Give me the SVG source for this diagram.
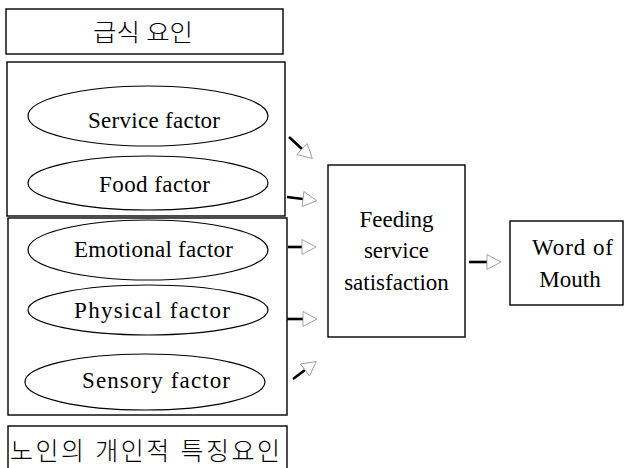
<svg xmlns="http://www.w3.org/2000/svg" width="625" height="468" viewBox="0 0 625 468">
<style>
.box{fill:none;stroke:#000;stroke-width:1.4}
.ell{fill:none;stroke:#000;stroke-width:1.2}
.t{font-family:"Liberation Serif","Times New Roman",serif;font-size:23px;fill:#000}
.k{font-family:"Liberation Serif","Noto Sans CJK KR",serif;font-weight:300;fill:#000}
.c{stroke:#000;stroke-width:2.6;fill:none;marker-end:url(#ah)}
</style>
<defs>
<marker id="ah" markerUnits="userSpaceOnUse" markerWidth="18" markerHeight="18" viewBox="0 0 18 18" refX="1" refY="9" orient="auto">
<path d="M1,1.5 L15,9 L1,16.5 Z" fill="#fff" stroke="#999" stroke-width="0.9"/>
</marker>
</defs>
<g id="header-meal">
<rect class="box" x="6" y="9" width="277" height="45"/>
<text class="k" x="93" y="41" font-size="24" textLength="100" lengthAdjust="spacingAndGlyphs">급식 요인</text>
</g>
<g id="group-meal">
<rect class="box" x="7" y="62" width="278" height="154"/>
</g>
<g id="service">
<ellipse class="ell" cx="148" cy="116" rx="120" ry="30"/>
<text class="t" x="88" y="128" textLength="132" lengthAdjust="spacing">Service factor</text>
</g>
<g id="food">
<ellipse class="ell" cx="148" cy="183" rx="120" ry="27"/>
<text class="t" x="99" y="192" textLength="111" lengthAdjust="spacing">Food factor</text>
</g>
<g id="group-personal">
<rect class="box" x="8" y="218" width="279" height="197"/>
</g>
<g id="emotional">
<ellipse class="ell" cx="148" cy="250" rx="120" ry="30"/>
<text class="t" x="74" y="257" textLength="159" lengthAdjust="spacing">Emotional factor</text>
</g>
<g id="physical">
<ellipse class="ell" cx="148" cy="310" rx="120" ry="25"/>
<text class="t" x="74" y="318" textLength="156" lengthAdjust="spacing">Physical factor</text>
</g>
<g id="sensory">
<ellipse class="ell" cx="145" cy="382" rx="120" ry="28"/>
<text class="t" x="82" y="388" textLength="148" lengthAdjust="spacing">Sensory factor</text>
</g>
<g id="header-personal">
<rect class="box" x="8" y="426" width="279" height="46"/>
<text class="k" x="10" y="460" font-size="25" textLength="270" lengthAdjust="spacing">노인의 개인적 특징요인</text>
</g>
<g id="satisfaction">
<rect class="box" x="328" y="165" width="137" height="172"/>
<text class="t" x="396.5" y="227" text-anchor="middle">Feeding</text>
<text class="t" x="396.5" y="258" text-anchor="middle">service</text>
<text class="t" x="396.5" y="290" text-anchor="middle">satisfaction</text>
</g>
<g id="word-of-mouth">
<rect class="box" x="510" y="221" width="113" height="84"/>
<text class="t" x="532" y="255" textLength="81" lengthAdjust="spacing">Word of</text>
<text class="t" x="570" y="287" text-anchor="middle">Mouth</text>
</g>
<g id="connectors">
<line class="c" x1="289" y1="137" x2="302" y2="149"/>
<line class="c" x1="287" y1="197" x2="303" y2="199"/>
<line class="c" x1="288" y1="247" x2="302" y2="247"/>
<line class="c" x1="287" y1="319" x2="303" y2="319"/>
<line class="c" x1="293" y1="379" x2="305" y2="370"/>
<line class="c" x1="469" y1="262" x2="487" y2="262"/>
</g>
</svg>
